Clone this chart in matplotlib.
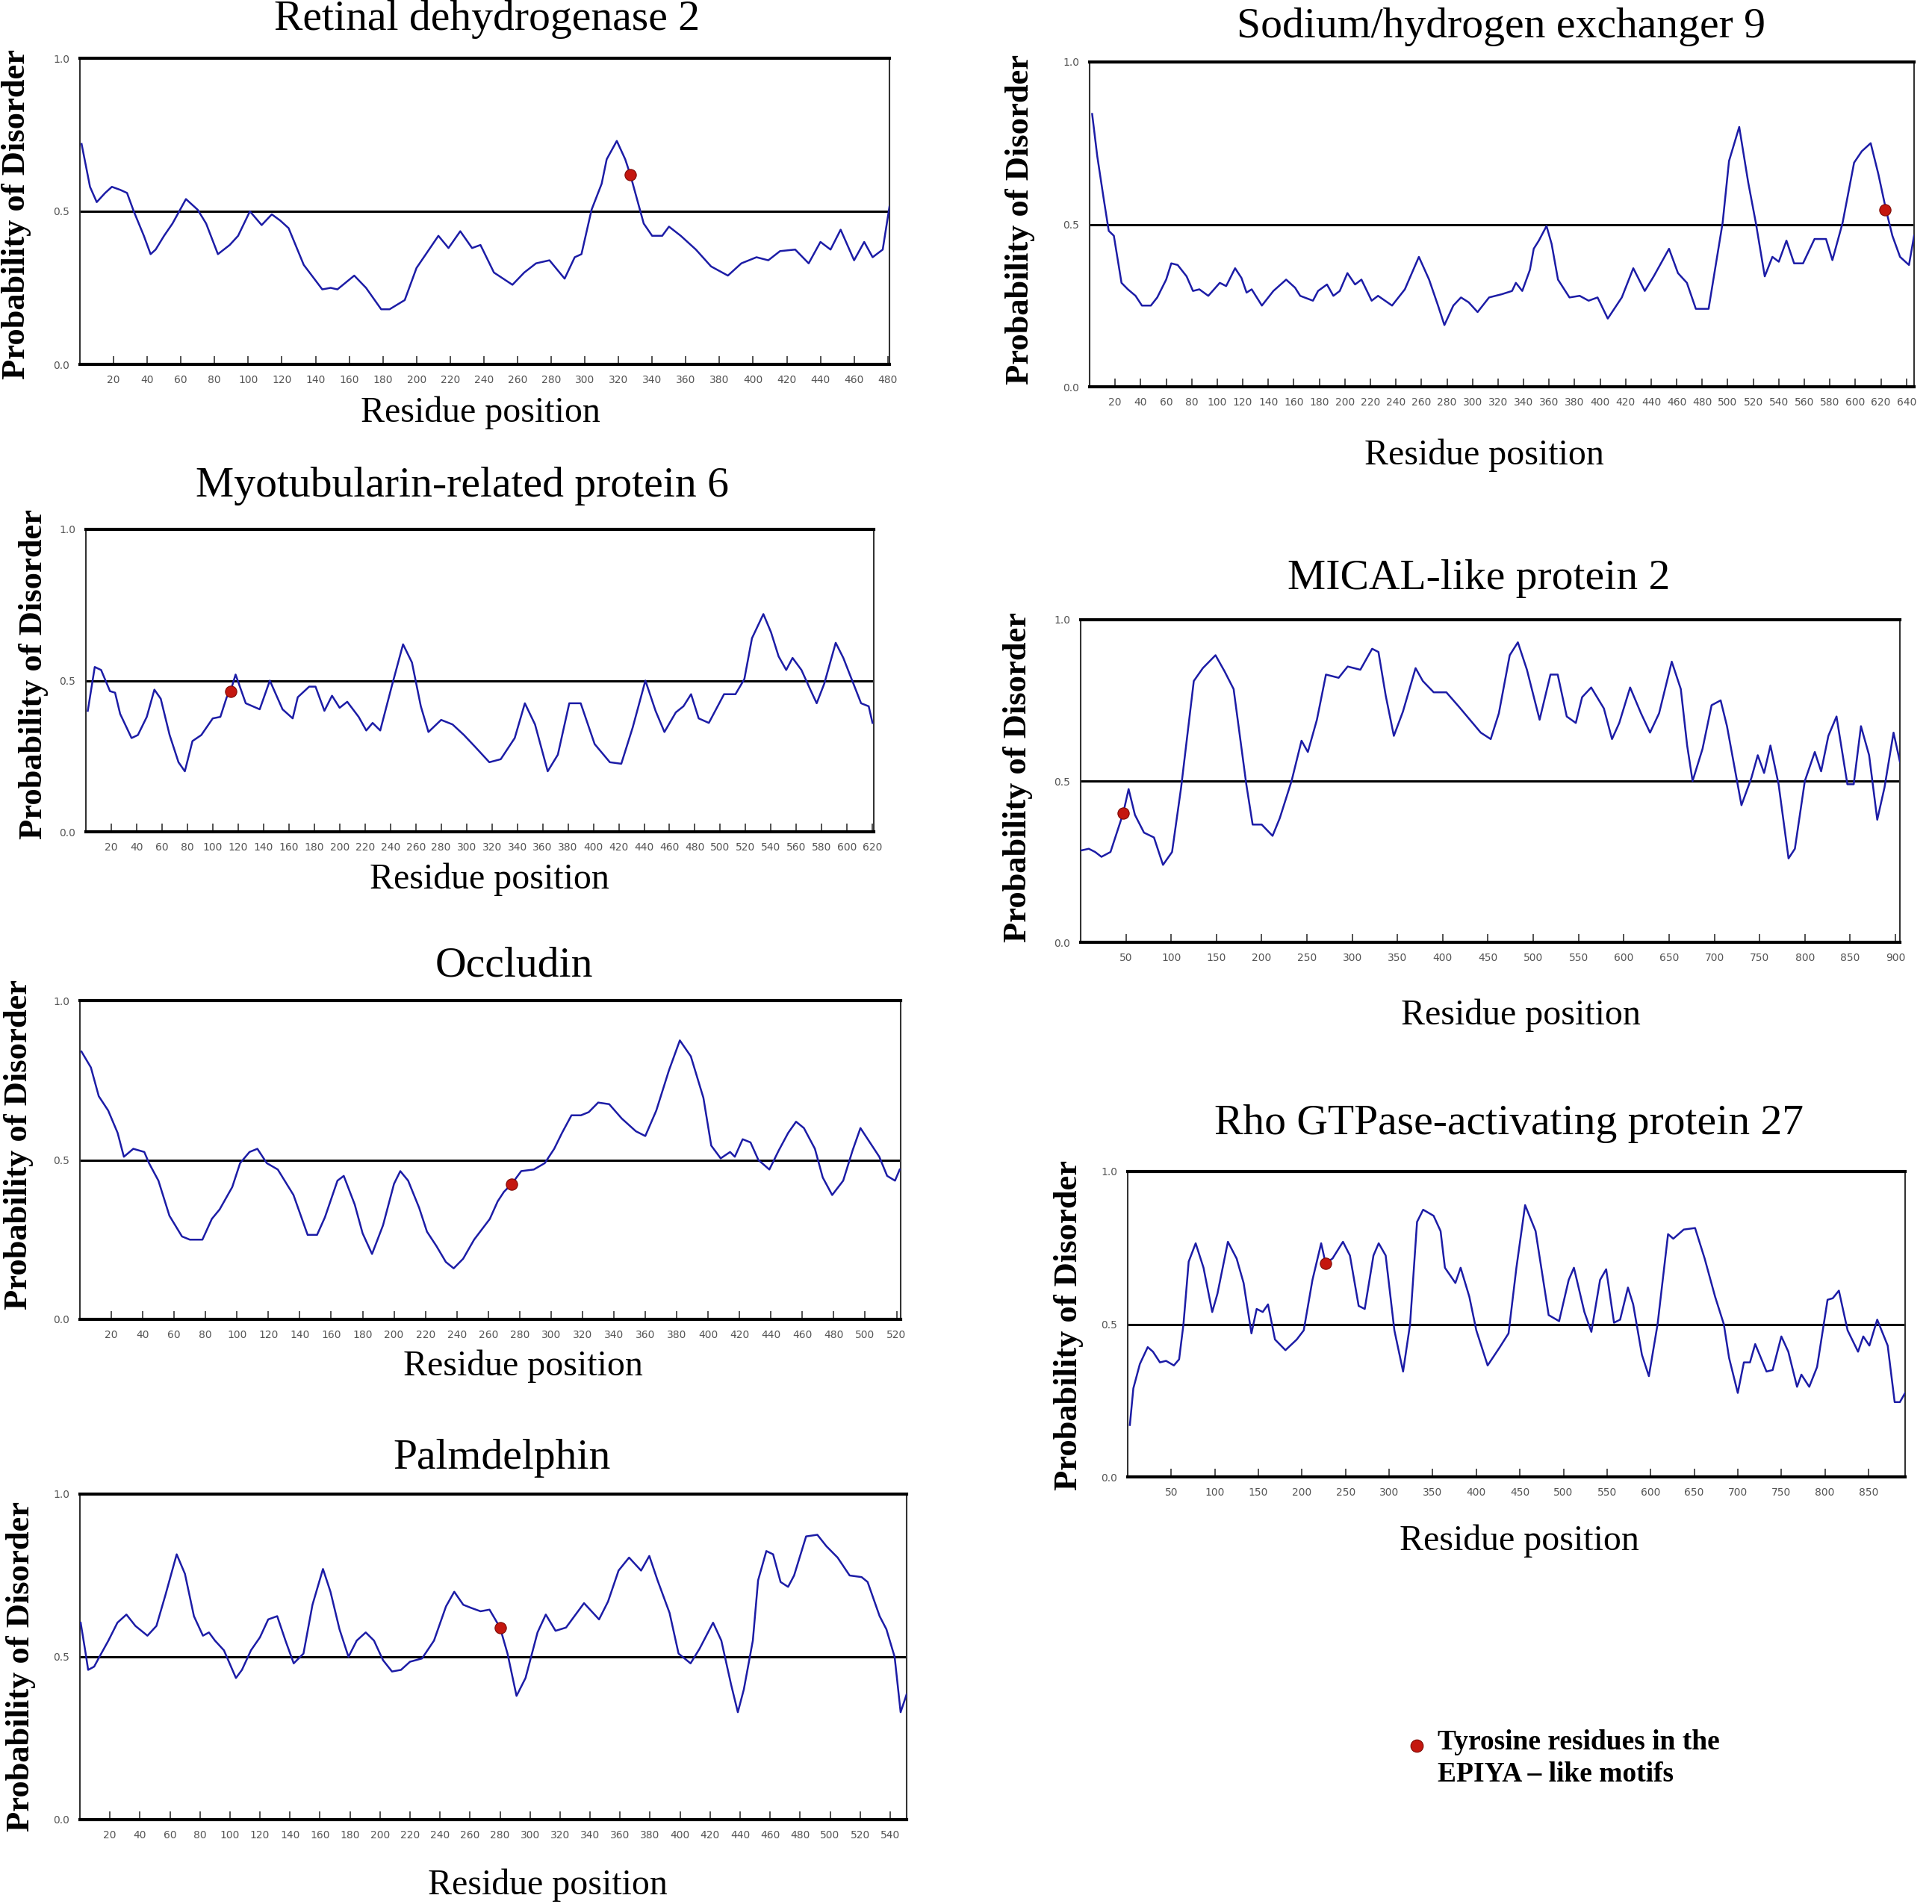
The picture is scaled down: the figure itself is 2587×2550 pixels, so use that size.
import matplotlib.pyplot as plt
from matplotlib.lines import Line2D

W, H = 2587, 2550

# -----------------------------
# DATA
# -----------------------------
rdh2_pos = [1, 6, 10, 15, 19, 24, 28, 32, 38, 42, 45, 50, 55, 63, 70, 75, 82, 89, 94, 101,
            108, 114, 119, 124, 133, 144, 149, 153, 163, 170, 179, 184, 193, 200, 213, 219,
            226, 233, 238, 246, 257, 264, 271, 279, 288, 294, 298, 304, 310, 313, 319, 324,
            327, 331, 335, 340, 346, 350, 357, 366, 375, 385, 393, 402, 409, 416, 425, 433,
            440, 446, 452, 460, 466, 471, 477, 481]
rdh2_prob = [0.72, 0.58, 0.53, 0.56, 0.58, 0.57, 0.56, 0.50, 0.42, 0.36, 0.375, 0.42, 0.46,
             0.54, 0.505, 0.46, 0.36, 0.39, 0.42, 0.50, 0.455, 0.49, 0.47, 0.445, 0.325, 0.245,
             0.25, 0.245, 0.29, 0.25, 0.18, 0.18, 0.21, 0.315, 0.42, 0.38, 0.435, 0.38, 0.39,
             0.30, 0.26, 0.30, 0.33, 0.34, 0.28, 0.35, 0.36, 0.505, 0.59, 0.67, 0.73, 0.67,
             0.62, 0.54, 0.46, 0.42, 0.42, 0.45, 0.42, 0.375, 0.32, 0.29, 0.33, 0.35, 0.34,
             0.37, 0.375, 0.33, 0.40, 0.375, 0.44, 0.34, 0.40, 0.35, 0.375, 0.515]
rdh2_tyr = [327]
rdh2_tyr_prob = [0.62]

nhe9_pos = [2, 6, 11, 15, 19, 25, 30, 36, 41, 48, 53, 60, 64, 69, 76, 81, 86, 93, 102, 107,
            114, 119, 123, 127, 135, 144, 154, 161, 165, 175, 179, 186, 191, 196, 202, 208,
            213, 221, 226, 237, 247, 258, 266, 273, 278, 285, 291, 297, 304, 313, 323, 331,
            334, 339, 345, 348, 352, 358, 362, 367, 376, 384, 391, 398, 406, 417, 426, 435,
            442, 454, 461, 468, 475, 485, 496, 501, 509, 516, 522, 529, 535, 540, 546, 552,
            559, 568, 577, 582, 590, 599, 605, 612, 618, 624, 629, 635, 642, 646]
nhe9_prob = [0.84, 0.71, 0.58, 0.48, 0.465, 0.32, 0.30, 0.28, 0.25, 0.25, 0.275, 0.33, 0.38,
             0.375, 0.34, 0.295, 0.30, 0.28, 0.32, 0.31, 0.365, 0.335, 0.29, 0.30, 0.25, 0.295,
             0.33, 0.305, 0.28, 0.265, 0.295, 0.315, 0.28, 0.295, 0.35, 0.315, 0.33, 0.265,
             0.28, 0.25, 0.30, 0.40, 0.33, 0.25, 0.19, 0.25, 0.275, 0.26, 0.23, 0.275, 0.285,
             0.295, 0.32, 0.295, 0.36, 0.425, 0.45, 0.495, 0.44, 0.33, 0.275, 0.28, 0.265,
             0.275, 0.21, 0.275, 0.365, 0.295, 0.34, 0.425, 0.35, 0.32, 0.24, 0.24, 0.505,
             0.695, 0.80, 0.63, 0.505, 0.34, 0.40, 0.385, 0.45, 0.38, 0.38, 0.455, 0.455, 0.39,
             0.505, 0.69, 0.725, 0.75, 0.655, 0.545, 0.465, 0.40, 0.375, 0.465]
nhe9_tyr = [623]
nhe9_tyr_prob = [0.545]

mtmr6_pos = [1.5, 7, 12, 19, 23, 27, 36, 41, 48, 54, 59, 66, 73, 78, 84, 91, 100, 106, 111,
             114, 118, 126, 137, 145, 155, 163, 167, 176, 181, 188, 194, 200, 206, 215, 221,
             226, 232, 241, 250, 257, 264, 270, 280, 289, 298, 307, 318, 327, 338, 346, 354,
             364, 372, 381, 390, 401, 413, 422, 431, 441, 449, 456, 465, 471, 477, 483, 491,
             503, 512, 519, 525, 534, 540, 546, 552, 557, 564, 571, 576, 582, 591, 597, 604,
             611, 617, 620]
mtmr6_prob = [0.40, 0.545, 0.535, 0.465, 0.46, 0.39, 0.31, 0.32, 0.38, 0.47, 0.44, 0.32, 0.23,
              0.20, 0.30, 0.32, 0.375, 0.38, 0.445, 0.465, 0.52, 0.425, 0.405, 0.50, 0.405,
              0.375, 0.445, 0.48, 0.48, 0.40, 0.45, 0.41, 0.43, 0.38, 0.335, 0.36, 0.335, 0.48,
              0.62, 0.56, 0.415, 0.33, 0.37, 0.355, 0.32, 0.28, 0.23, 0.24, 0.31, 0.425, 0.355,
              0.20, 0.255, 0.425, 0.425, 0.29, 0.23, 0.225, 0.345, 0.50, 0.40, 0.33, 0.395,
              0.415, 0.455, 0.375, 0.36, 0.455, 0.455, 0.505, 0.64, 0.72, 0.66, 0.58, 0.535,
              0.575, 0.535, 0.47, 0.425, 0.49, 0.625, 0.575, 0.50, 0.425, 0.415, 0.36]
mtmr6_tyr = [114]
mtmr6_tyr_prob = [0.465]

mical_pos = [1, 9, 16, 23, 33, 40, 47, 53, 60, 70, 81, 91, 101, 111, 125, 135, 149, 159, 169,
             183, 190, 200, 212, 220, 233, 244, 251, 261, 271, 285, 295, 309, 322, 329, 337,
             346, 356, 370, 378, 390, 404, 418, 430, 442, 453, 462, 474, 483, 493, 507, 519,
             527, 537, 547, 554, 564, 578, 587, 595, 607, 619, 629, 639, 653, 663, 670, 676,
             687, 697, 707, 714, 730, 741, 748, 755, 762, 771, 782, 789, 800, 811, 818, 826,
             835, 847, 854, 862, 871, 880, 888, 898, 905]
mical_prob = [0.285, 0.29, 0.28, 0.265, 0.28, 0.34, 0.40, 0.475, 0.395, 0.34, 0.325, 0.24,
              0.28, 0.48, 0.81, 0.85, 0.89, 0.84, 0.785, 0.49, 0.365, 0.365, 0.33, 0.385, 0.50,
              0.625, 0.59, 0.69, 0.83, 0.82, 0.855, 0.845, 0.91, 0.90, 0.765, 0.64, 0.715,
              0.85, 0.81, 0.775, 0.775, 0.73, 0.69, 0.65, 0.63, 0.71, 0.89, 0.93, 0.845, 0.69,
              0.83, 0.83, 0.70, 0.68, 0.76, 0.79, 0.725, 0.63, 0.68, 0.79, 0.71, 0.65, 0.71,
              0.87, 0.785, 0.61, 0.50, 0.60, 0.735, 0.75, 0.67, 0.425, 0.51, 0.58, 0.525, 0.61,
              0.49, 0.26, 0.29, 0.50, 0.59, 0.53, 0.64, 0.70, 0.49, 0.49, 0.67, 0.58, 0.38,
              0.48, 0.65, 0.56]
mical_tyr = [47]
mical_tyr_prob = [0.40]

ocln_pos = [1, 7, 12, 18, 24, 28, 34, 41, 44, 50, 57, 65, 70, 78, 84, 89, 97, 102, 108, 113,
            119, 126, 136, 145, 151, 156, 164, 168, 175, 180, 186, 193, 200, 204, 209, 216,
            221, 227, 233, 238, 244, 251, 261, 266, 270, 275, 281, 289, 296, 302, 307, 313,
            319, 324, 330, 337, 345, 354, 360, 367, 375, 382, 389, 397, 402, 408, 414, 417,
            422, 427, 432, 439, 445, 451, 456, 461, 468, 473, 479, 486, 492, 497, 503, 509,
            514, 519, 522]
ocln_prob = [0.84, 0.79, 0.70, 0.655, 0.585, 0.51, 0.535, 0.525, 0.49, 0.435, 0.325, 0.26,
             0.25, 0.25, 0.315, 0.345, 0.415, 0.49, 0.525, 0.535, 0.49, 0.47, 0.39, 0.265,
             0.265, 0.32, 0.435, 0.45, 0.36, 0.27, 0.205, 0.295, 0.425, 0.465, 0.435, 0.35,
             0.275, 0.23, 0.18, 0.16, 0.19, 0.25, 0.315, 0.37, 0.40, 0.425, 0.465, 0.47, 0.49,
             0.535, 0.585, 0.64, 0.64, 0.65, 0.68, 0.675, 0.63, 0.59, 0.575, 0.655, 0.78,
             0.875, 0.825, 0.695, 0.545, 0.505, 0.525, 0.51, 0.565, 0.555, 0.50, 0.47, 0.53,
             0.585, 0.62, 0.60, 0.535, 0.445, 0.39, 0.435, 0.53, 0.60, 0.555, 0.51, 0.45,
             0.435, 0.47]
ocln_tyr = [275]
ocln_tyr_prob = [0.425]

arhgap27_pos = [2.5, 6.5, 14, 23, 29, 37, 44, 53, 59, 64, 70, 78, 87, 97, 103, 115, 125, 133,
                142, 148, 155, 161, 169, 181, 194, 202, 212, 222, 227, 235, 247, 255, 265, 272,
                282, 288, 296, 306, 316, 324, 332, 339, 351, 359, 364, 376, 382, 392, 400, 413,
                427, 437, 446, 456, 468, 483, 495, 506, 512, 524, 532, 542, 549, 558, 565, 574,
                580, 590, 598, 608, 620, 626, 638, 651, 662, 674, 684, 690, 700, 707, 714, 720,
                733, 740, 750, 758, 768, 773, 782, 791, 803, 809, 816, 826, 838, 844, 851, 860,
                872, 880, 886, 892]
arhgap27_prob = [0.17, 0.29, 0.37, 0.425, 0.41, 0.375, 0.38, 0.365, 0.385, 0.50, 0.705, 0.765,
                 0.685, 0.54, 0.60, 0.77, 0.715, 0.635, 0.47, 0.55, 0.54, 0.565, 0.45, 0.415,
                 0.45, 0.48, 0.645, 0.765, 0.70, 0.715, 0.77, 0.725, 0.56, 0.55, 0.725, 0.765,
                 0.725, 0.48, 0.345, 0.50, 0.835, 0.875, 0.855, 0.805, 0.685, 0.635, 0.685, 0.59,
                 0.48, 0.365, 0.425, 0.47, 0.685, 0.89, 0.805, 0.53, 0.51, 0.645, 0.685, 0.54,
                 0.475, 0.645, 0.68, 0.505, 0.515, 0.62, 0.565, 0.40, 0.33, 0.50, 0.795, 0.78,
                 0.81, 0.815, 0.715, 0.59, 0.50, 0.39, 0.275, 0.375, 0.375, 0.435, 0.345, 0.35,
                 0.46, 0.41, 0.295, 0.335, 0.295, 0.36, 0.58, 0.585, 0.61, 0.48, 0.41, 0.46, 0.43,
                 0.515, 0.43, 0.245, 0.245, 0.275]
arhgap27_tyr = [227]
arhgap27_tyr_prob = [0.70]

palmd_pos = [0.5, 3.5, 5.5, 9.5, 13, 19, 25, 31, 37, 41, 45, 51, 57, 64.5, 70, 76, 82, 86, 90,
             96, 104, 108, 114, 120, 125.5, 131.5, 137, 142.5, 149, 155, 162, 167, 173, 179,
             184.5, 190.5, 196, 202, 208, 214, 220, 228, 236, 244, 249.5, 255.5, 261, 267, 273,
             280, 285, 291, 297, 305, 310.5, 317, 324, 328, 336, 342, 346, 352, 359, 366, 374,
             379.5, 385, 393, 399, 407, 413, 422, 427.5, 434, 438.5, 442.5, 448.5, 452, 457.5,
             462, 467, 472, 476, 484, 491.5, 497.5, 505, 513, 521, 525, 533, 537.5, 543, 547,
             551]
palmd_prob = [0.605, 0.52, 0.46, 0.47, 0.50, 0.55, 0.605, 0.63, 0.595, 0.58, 0.565, 0.595,
              0.69, 0.815, 0.755, 0.625, 0.565, 0.575, 0.55, 0.52, 0.435, 0.46, 0.52, 0.56,
              0.615, 0.625, 0.55, 0.48, 0.51, 0.66, 0.77, 0.70, 0.585, 0.50, 0.55, 0.575, 0.55,
              0.49, 0.455, 0.46, 0.485, 0.495, 0.55, 0.655, 0.70, 0.66, 0.65, 0.64, 0.645, 0.59,
              0.51, 0.38, 0.435, 0.575, 0.63, 0.58, 0.59, 0.615, 0.665, 0.635, 0.615, 0.67,
              0.765, 0.805, 0.765, 0.81, 0.735, 0.635, 0.51, 0.48, 0.525, 0.605, 0.55, 0.415,
              0.33, 0.40, 0.55, 0.735, 0.825, 0.815, 0.73, 0.715, 0.75, 0.87, 0.875, 0.84,
              0.805, 0.75, 0.745, 0.73, 0.625, 0.585, 0.50, 0.33, 0.385]
palmd_tyr = [280]
palmd_tyr_prob = [0.59]

# -----------------------------
# LAYOUT (pixel boxes: left, top, right, bottom; title given by baseline)
# -----------------------------
panels = [
    dict(title="Retinal dehydrogenase 2", pos=rdh2_pos, prob=rdh2_prob,
         tx=rdh2_tyr, ty=rdh2_tyr_prob, box=(107, 78, 1191, 488), xmax=481,
         ticks=range(20, 481, 20), title_xy=(652, 40), ylab_xy=(22, 287), xlab_xy=(643, 553)),
    dict(title="Sodium/hydrogen exchanger 9", pos=nhe9_pos, prob=nhe9_prob,
         tx=nhe9_tyr, ty=nhe9_tyr_prob, box=(1459, 83, 2563, 518), xmax=646,
         ticks=range(20, 641, 20), title_xy=(2010, 50), ylab_xy=(1366, 294), xlab_xy=(1987, 610)),
    dict(title="Myotubularin-related protein 6", pos=mtmr6_pos, prob=mtmr6_prob,
         tx=mtmr6_tyr, ty=mtmr6_tyr_prob, box=(115, 709, 1170, 1114), xmax=621,
         ticks=range(20, 621, 20), title_xy=(619, 665), ylab_xy=(45, 903), xlab_xy=(655, 1178)),
    dict(title="MICAL-like protein 2", pos=mical_pos, prob=mical_prob,
         tx=mical_tyr, ty=mical_tyr_prob, box=(1447, 830, 2544, 1262), xmax=905,
         ticks=range(50, 901, 50), title_xy=(1980, 789), ylab_xy=(1363, 1041), xlab_xy=(2036, 1360)),
    dict(title="Occludin", pos=ocln_pos, prob=ocln_prob,
         tx=ocln_tyr, ty=ocln_tyr_prob, box=(107, 1340, 1206, 1767), xmax=522.6,
         ticks=range(20, 521, 20), title_xy=(688, 1307), ylab_xy=(25, 1533), xlab_xy=(700, 1830)),
    dict(title="Rho GTPase-activating protein 27", pos=arhgap27_pos, prob=arhgap27_prob,
         tx=arhgap27_tyr, ty=arhgap27_tyr_prob, box=(1510, 1569, 2551, 1978), xmax=892,
         ticks=range(50, 851, 50), title_xy=(2020, 1519), ylab_xy=(1431, 1775), xlab_xy=(2034, 2064)),
    dict(title="Palmdelphin", pos=palmd_pos, prob=palmd_prob,
         tx=palmd_tyr, ty=palmd_tyr_prob, box=(107, 2001, 1214, 2437), xmax=551,
         ticks=range(20, 541, 20), title_xy=(672, 1967), ylab_xy=(28, 2232), xlab_xy=(733, 2525)),
]

LINE_COLOR = "#1c1ca6"
DOT_COLOR = "#c4170f"
SERIF = "Liberation Serif"

fig = plt.figure(figsize=(W / 100, H / 100), dpi=100)


def ftext(x, y, s, **kw):
    fig.text(x / W, 1 - y / H, s, **kw)


for p in panels:
    l, t, r, b = p["box"]
    ax = fig.add_axes([l / W, 1 - b / H, (r - l) / W, (b - t) / H])
    ax.plot(p["pos"], p["prob"], color=LINE_COLOR, lw=1.8, zorder=3)
    ax.axhline(0.5, color="black", lw=2.2, zorder=2)
    ax.plot(p["tx"], p["ty"], "o", ms=11, color=DOT_COLOR, mec="#7d0a05", mew=0.8, zorder=5)
    ax.set_xlim(0, p["xmax"])
    ax.set_ylim(0, 1)
    ax.set_yticks([0, 0.5, 1.0])
    ax.set_yticklabels(["0.0", "0.5", "1.0"])
    ax.set_xticks(list(p["ticks"]))
    ax.tick_params(axis="x", direction="in", length=8, width=1.2, color="#333333",
                   labelsize=10, labelcolor="#555555", pad=10)
    ax.tick_params(axis="y", length=0, labelsize=10, labelcolor="#555555", pad=10)
    for side in ("top", "bottom"):
        ax.spines[side].set_linewidth(3)
    for side in ("left", "right"):
        ax.spines[side].set_linewidth(1.5)
        ax.spines[side].set_color("#333333")

    ftext(*p["title_xy"], p["title"], family=SERIF, fontsize=41.5, ha="center", va="baseline")
    ftext(*p["ylab_xy"], "Probability of Disorder", family=SERIF, fontsize=32,
          fontweight="bold", rotation=90, ha="center", va="center")
    ftext(*p["xlab_xy"], "Residue position", family=SERIF, fontsize=34.5, ha="center", va="center")

# -----------------------------
# LEGEND
# -----------------------------
fig.add_artist(Line2D([1897 / W], [1 - 2338 / H], marker="o", ms=12, color=DOT_COLOR,
                      mec="#7d0a05", mew=0.8, transform=fig.transFigure))
ftext(1925, 2355, "Tyrosine residues in the\nEPIYA \u2013 like motifs", family=SERIF,
      fontsize=27, fontweight="bold", ha="left", va="center", linespacing=1.3)

fig.savefig("out.png", dpi=100, facecolor="white")
